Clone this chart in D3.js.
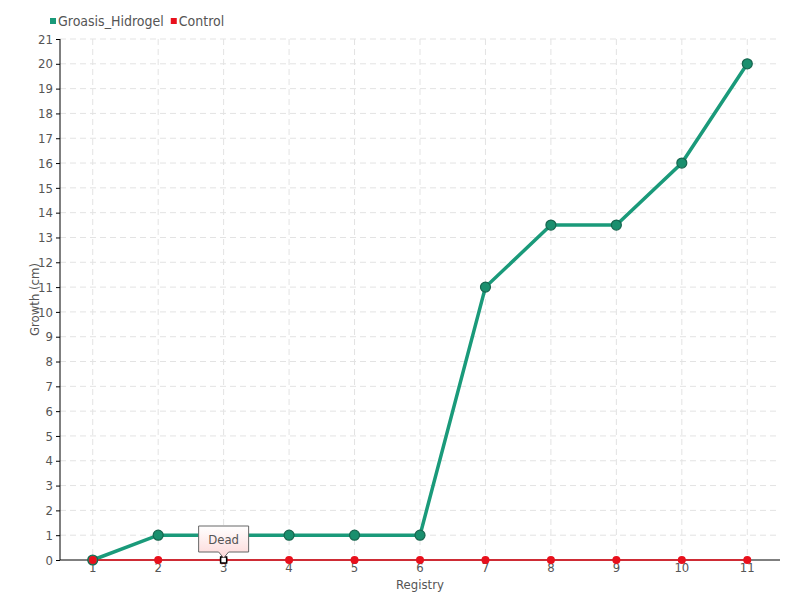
<!DOCTYPE html>
<html><head><meta charset="utf-8">
<script src="https://cdn.jsdelivr.net/npm/d3@7"></script>
<style>
body{margin:0;background:#fff;}
text{font-family:"DejaVu Sans Condensed","Liberation Sans Narrow","Roboto Condensed",sans-serif;fill:#555;}
</style></head><body>
<svg id="c" width="800" height="600"></svg>
<script>
const categories = ["1","2","3","4","5","6","7","8","9","10","11"];
const groasis = [0,1,1,1,1,1,11,13.5,13.5,16,20];
const control = [0,0,0,0,0,0,0,0,0,0,0];
const yTicks = d3.range(0,22);
const seriesNames = ["Groasis_Hidrogel","Control"];
const colors = ["#1a9a7a","#e8101c"];
const annotation = {cat:"3", value:0, label:"Dead"};

const svg = d3.select("#c");
const L=60, R=780, T=39, B=560;
const x = d3.scaleBand().domain(categories).range([L,R]);
const cx = c => x(c)+x.bandwidth()/2;
const y = d3.scaleLinear().domain([0,21]).range([B,T]);

// grid
const g = svg.append("g");
g.selectAll("line.h").data(yTicks.slice(1)).join("line")
  .attr("x1",L).attr("x2",R).attr("y1",d=>y(d)).attr("y2",d=>y(d))
  .attr("stroke","#e3e3e3").attr("stroke-dasharray","6,4");
g.selectAll("line.v").data(categories).join("line")
  .attr("x1",d=>cx(d)).attr("x2",d=>cx(d)).attr("y1",T).attr("y2",B)
  .attr("stroke","#e3e3e3").attr("stroke-dasharray","6,4");

// axes
const ya = svg.append("g").attr("transform",`translate(${L},0)`)
  .call(d3.axisLeft(y).tickValues(yTicks).tickSize(4).tickPadding(3));
ya.select(".domain").attr("d",`M0,${T}V${B}`).attr("stroke","#000");
ya.selectAll(".tick line").attr("stroke","#000");
ya.selectAll("text").attr("font-size",13).style("fill","#555");

const xa = svg.append("g").attr("transform",`translate(0,${B})`)
  .call(d3.axisBottom(x).tickSize(0).tickPadding(3));
xa.select(".domain").attr("d",`M${L},0H${R}`).attr("stroke","#000");
xa.selectAll("text").attr("font-size",13).style("fill","#555");

svg.append("text").attr("transform",`translate(39,${(T+B)/2}) rotate(-90)`)
  .attr("text-anchor","middle").attr("font-size",13).text("Growth (cm)");
svg.append("text").attr("x",(L+R)/2).attr("y",589).attr("text-anchor","middle")
  .attr("font-size",13).text("Registry");

// lines
const line = d3.line().x((d,i)=>cx(categories[i])).y(d=>y(d));
svg.append("path").datum(groasis).attr("d",line).attr("fill","none")
  .attr("stroke",colors[0]).attr("stroke-width",3.5);
svg.append("path").datum(control).attr("d",line).attr("fill","none")
  .attr("stroke",colors[1]).attr("stroke-width",1.5);

svg.selectAll("circle.g").data(groasis).join("circle")
  .attr("cx",(d,i)=>cx(categories[i])).attr("cy",d=>y(d)).attr("r",5)
  .attr("fill","#1a8f6e").attr("stroke","#17664f").attr("stroke-width",1.2);
svg.selectAll("circle.r").data(control).join("circle")
  .attr("cx",(d,i)=>cx(categories[i])).attr("cy",d=>y(d)).attr("r",4)
  .attr("fill",colors[1]);

// annotation
const ax = cx(annotation.cat), ay = y(annotation.value);
svg.append("rect").attr("x",ax-3).attr("y",ay-3).attr("width",6).attr("height",6)
  .attr("fill","#fff").attr("stroke","#000").attr("stroke-width",1.5);
const defs = svg.append("defs");
const gr = defs.append("linearGradient").attr("id","tg").attr("x1",0).attr("x2",0).attr("y1",0).attr("y2",1);
gr.append("stop").attr("offset","0%").attr("stop-color","#ffffff");
gr.append("stop").attr("offset","100%").attr("stop-color","#fdd8d8");
const bw=50,bh=26,by=ay-34;
svg.append("path")
  .attr("d",`M${ax-bw/2},${by} h${bw} v${bh} h${-(bw/2-5)} l-5,6 l-5,-6 h${-(bw/2-5)} Z`)
  .attr("fill","url(#tg)").attr("stroke","#666").attr("stroke-width",1);
svg.append("text").attr("x",ax).attr("y",by+18).attr("text-anchor","middle")
  .attr("font-size",13).text(annotation.label);

// legend
const leg = svg.append("g");
let lx=50;
seriesNames.forEach((n,i)=>{
  leg.append("rect").attr("x",lx).attr("y",18).attr("width",6).attr("height",6).attr("fill",colors[i]);
  const t = leg.append("text").attr("x",lx+8).attr("y",26).attr("font-size",14).text(n);
  lx += 8 + t.node().getComputedTextLength() + 7;
});
</script></body></html>
